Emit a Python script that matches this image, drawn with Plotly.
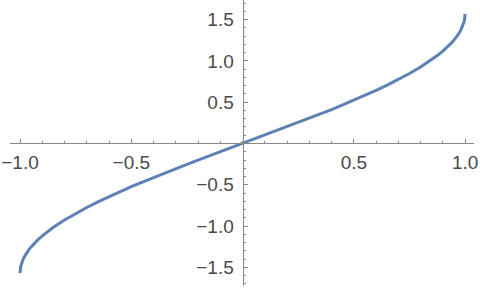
import plotly.graph_objects as go

# values (curve y = arcsin-like shape)
x_pos = [0.0, 0.05, 0.1, 0.15, 0.2, 0.25, 0.3, 0.35, 0.4, 0.45, 0.5, 0.55, 0.6, 0.65,
         0.7, 0.75, 0.8, 0.85, 0.88, 0.9, 0.92, 0.94, 0.95, 0.96, 0.97, 0.98, 0.985,
         0.99, 0.993, 0.995, 0.997, 0.998, 0.999, 0.9997, 1.0]
y_pos = [0.0, 0.0500, 0.1002, 0.1506, 0.2014, 0.2527, 0.3047, 0.3576, 0.4115, 0.4668,
         0.5236, 0.5824, 0.6435, 0.7076, 0.7754, 0.8481, 0.9273, 1.0160, 1.0759, 1.1198,
         1.1681, 1.2227, 1.2532, 1.2870, 1.3252, 1.3705, 1.3976, 1.4293, 1.4524, 1.4708,
         1.4934, 1.5075, 1.5261, 1.5463, 1.5708]

x_vals = [-v for v in reversed(x_pos[1:])] + x_pos
y_vals = [-v for v in reversed(y_pos[1:])] + y_pos

x_tickvals = [-1.0, -0.5, 0.5, 1.0]
x_ticktext = ["\u22121.0", "\u22120.5", "0.5", "1.0"]
y_tickvals = [-1.5, -1.0, -0.5, 0.5, 1.0, 1.5]
y_ticktext = ["\u22121.5", "\u22121.0", "\u22120.5", "0.5", "1.0", "1.5"]

x_range = [-1.045, 1.040]
y_range = [-1.727, 1.739]

fig = go.Figure()
fig.add_trace(go.Scatter(x=x_vals, y=y_vals, mode="lines",
                         line=dict(color="#5E81B5", width=3), hoverinfo="skip"))

axis_col = "#888888"
font = dict(family="Liberation Sans", size=19, color="#4a4a4a")

x_pos_paper = (0 - y_range[0]) / (y_range[1] - y_range[0])
y_pos_paper = (0 - x_range[0]) / (x_range[1] - x_range[0])

fig.update_layout(
    width=480, height=290,
    margin=dict(l=10, r=6, t=0, b=4),
    paper_bgcolor="white", plot_bgcolor="white",
    showlegend=False,
    xaxis=dict(range=x_range, anchor="free", position=x_pos_paper,
               showgrid=False, zeroline=False, showline=True, linecolor=axis_col, linewidth=1,
               tickmode="array", tickvals=x_tickvals, ticktext=x_ticktext,
               ticks="inside", ticklen=4, tickcolor=axis_col, tickwidth=1,
               minor=dict(tickmode="linear", tick0=0, dtick=0.1, ticks="inside",
                          ticklen=2.5, tickcolor=axis_col, tickwidth=1),
               tickfont=font, ticklabelstandoff=2),
    yaxis=dict(range=y_range, anchor="free", position=y_pos_paper,
               showgrid=False, zeroline=False, showline=True, linecolor=axis_col, linewidth=1,
               tickmode="array", tickvals=y_tickvals, ticktext=y_ticktext,
               ticks="inside", ticklen=4, tickcolor=axis_col, tickwidth=1,
               minor=dict(tickmode="linear", tick0=0, dtick=0.1, ticks="inside",
                          ticklen=2.5, tickcolor=axis_col, tickwidth=1),
               tickfont=font, ticklabelstandoff=5),
)

fig.write_html("out.html")
